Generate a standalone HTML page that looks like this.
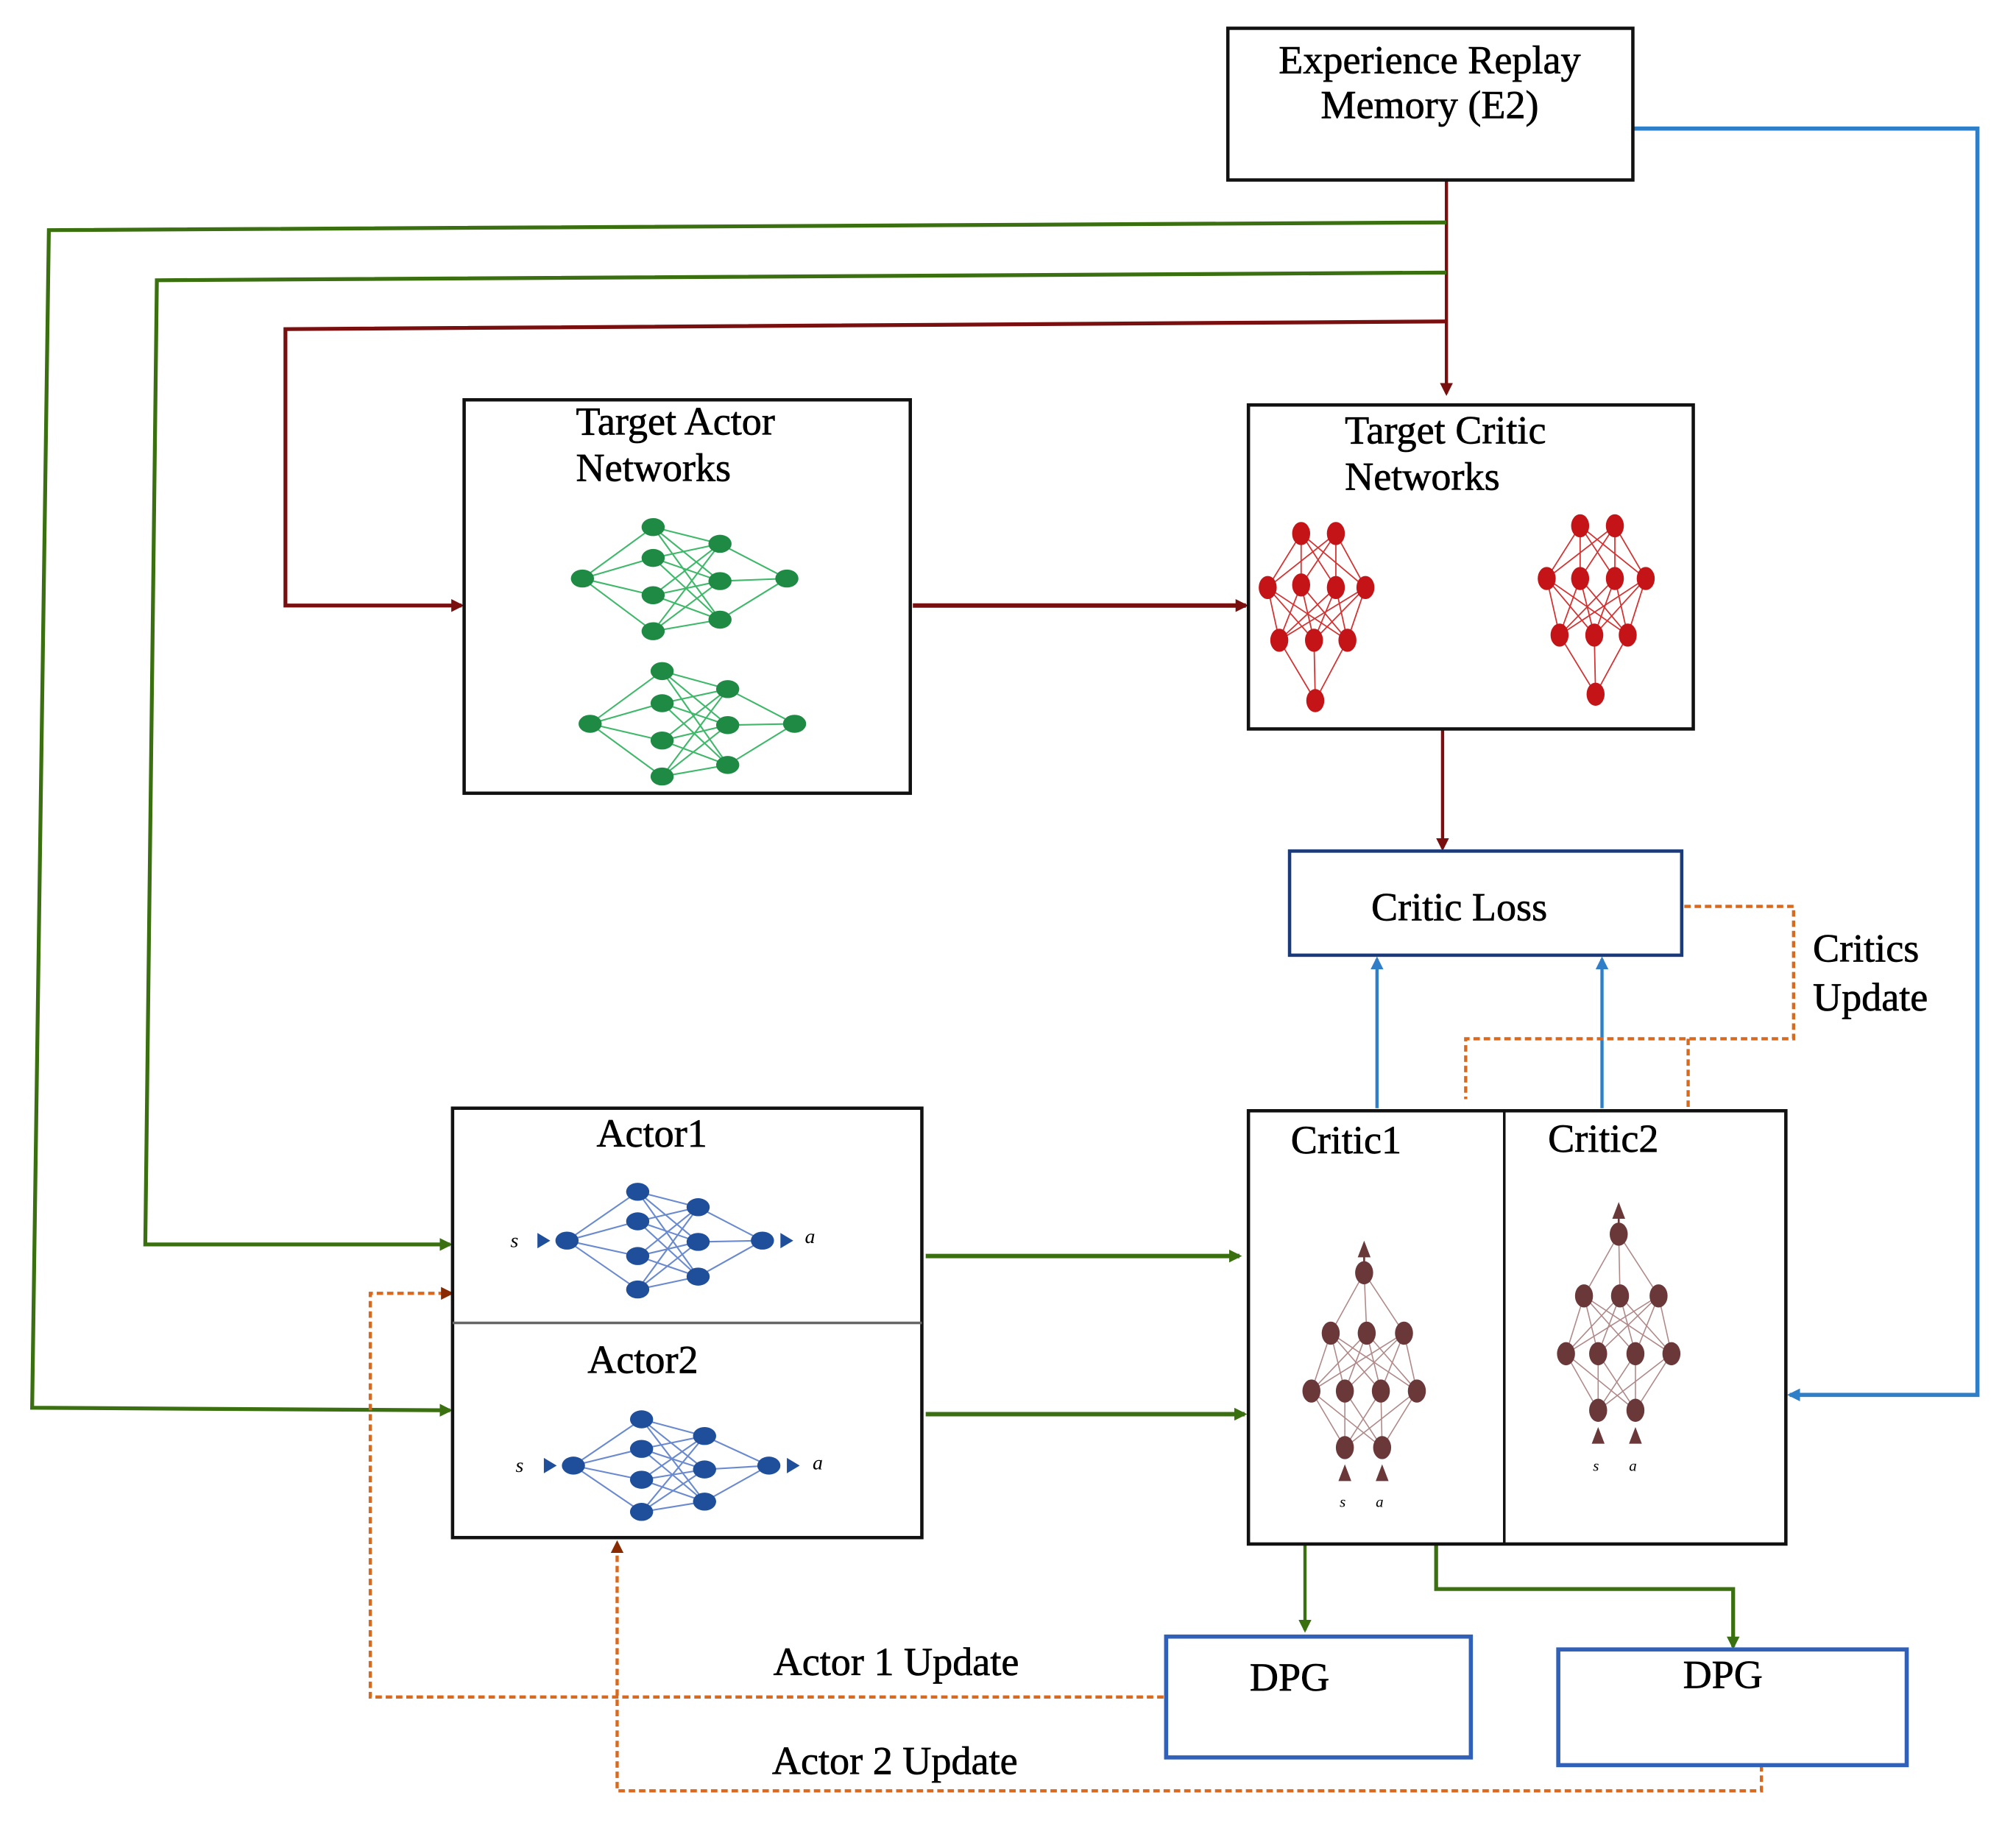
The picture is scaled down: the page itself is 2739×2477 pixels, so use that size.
<!DOCTYPE html>
<html><head><meta charset="utf-8"><style>
html,body{margin:0;padding:0;background:#fff;}
svg{display:block;}
text{font-family:"Liberation Serif",serif;fill:#000;}
</style></head><body>
<svg id="s" width="2739" height="2477" viewBox="0 0 1568 1418" preserveAspectRatio="none" xmlns="http://www.w3.org/2000/svg">
<defs>
<marker id="ar" markerWidth="10" markerHeight="10" refX="8" refY="5" orient="auto" markerUnits="userSpaceOnUse"><path d="M0,0 L10,5 L0,10 z" fill="#7a0f0f"/></marker>
<marker id="ag" markerWidth="10" markerHeight="10" refX="8" refY="5" orient="auto" markerUnits="userSpaceOnUse"><path d="M0,0 L10,5 L0,10 z" fill="#3a7010"/></marker>
<marker id="ab" markerWidth="10" markerHeight="10" refX="8" refY="5" orient="auto" markerUnits="userSpaceOnUse"><path d="M0,0 L10,5 L0,10 z" fill="#2f7fc8"/></marker>
<marker id="ao" markerWidth="10" markerHeight="10" refX="8" refY="5" orient="auto" markerUnits="userSpaceOnUse"><path d="M0,0 L10,5 L0,10 z" fill="#8a2a00"/></marker>
</defs>
<g fill="none" stroke-width="2.5">
<polyline points="1270,100 1538,100 1538,1085 1392,1085" stroke="#2f7fc8" stroke-width="3.2" marker-end="url(#ab)"/>
<line x1="1125" y1="140" x2="1125" y2="306" stroke="#7a0f0f" marker-end="url(#ar)"/>
<polyline points="1125,173 38,179 25,1095 350,1097" stroke="#3a7010" stroke-width="3" marker-end="url(#ag)"/>
<polyline points="1125,212 122,218 113,968 350,968" stroke="#3a7010" stroke-width="3" marker-end="url(#ag)"/>
<polyline points="1125,250 222,256 222,471 359,471" stroke="#7a0f0f" stroke-width="3" marker-end="url(#ar)"/>
<line x1="710" y1="471" x2="969" y2="471" stroke="#7a0f0f" stroke-width="3.4" marker-end="url(#ar)"/>
<line x1="1122" y1="567" x2="1122" y2="660" stroke="#7a0f0f" marker-end="url(#ar)"/>
<line x1="1071" y1="862" x2="1071" y2="746" stroke="#2f7fc8" marker-end="url(#ab)"/>
<line x1="1246" y1="862" x2="1246" y2="746" stroke="#2f7fc8" marker-end="url(#ab)"/>
<polyline points="1310,705 1395,705 1395,808 1140,808 1140,855" stroke="#d86a20" stroke-dasharray="5,3"/>
<line x1="1313" y1="808" x2="1313" y2="862" stroke="#d86a20" stroke-dasharray="5,3"/>
<line x1="720" y1="977" x2="964" y2="977" stroke="#3a7010" stroke-width="3.4" marker-end="url(#ag)"/>
<line x1="720" y1="1100" x2="968" y2="1100" stroke="#3a7010" stroke-width="3.4" marker-end="url(#ag)"/>
<line x1="1015" y1="1201" x2="1015" y2="1268" stroke="#3a7010" marker-end="url(#ag)"/>
<polyline points="1117,1201 1117,1236 1348,1236 1348,1281" stroke="#3a7010" stroke-width="3" marker-end="url(#ag)"/>
<polyline points="905,1320 288,1320 288,1006 351,1006" stroke="#d86a20" stroke-dasharray="5,3" marker-end="url(#ao)"/>
<polyline points="1370,1373 1370,1393 480,1393 480,1200" stroke="#d86a20" stroke-dasharray="5,3" marker-end="url(#ao)"/>
</g>
<g fill="#fff" stroke="#111" stroke-width="2.6">
<rect x="955" y="22" width="315" height="118"/>
<rect x="361" y="311" width="347" height="306"/>
<rect x="971" y="315" width="346" height="252"/>
<rect x="1003" y="662" width="305" height="81" stroke="#1a3a7a"/>
<rect x="352" y="862" width="365" height="334"/>
<rect x="971" y="864" width="418" height="337"/>
<rect x="907" y="1273" width="237" height="94" stroke="#3060b8" stroke-width="3.2"/>
<rect x="1212" y="1283" width="271" height="90" stroke="#3060b8" stroke-width="3.2"/>
</g>
<line x1="352" y1="1029" x2="717" y2="1029" stroke="#666" stroke-width="2"/>
<line x1="1170" y1="864" x2="1170" y2="1201" stroke="#111" stroke-width="2"/>
<g id="nets"></g>
<g font-size="31" stroke="#000" stroke-width="0.4">
<text x="1112" y="57" text-anchor="middle">Experience Replay</text>
<text x="1112" y="92" text-anchor="middle">Memory (E2)</text>
<text x="448" y="338">Target Actor</text>
<text x="448" y="374">Networks</text>
<text x="1046" y="345">Target Critic</text>
<text x="1046" y="381">Networks</text>
<text x="1135" y="716" text-anchor="middle">Critic Loss</text>
<text x="1410" y="748">Critics</text>
<text x="1410" y="786">Update</text>
<text x="507" y="892" text-anchor="middle">Actor1</text>
<text x="500" y="1068" text-anchor="middle">Actor2</text>
<text x="1047" y="897" text-anchor="middle">Critic1</text>
<text x="1247" y="896" text-anchor="middle">Critic2</text>
<text x="1003" y="1315" text-anchor="middle">DPG</text>
<text x="1340" y="1313" text-anchor="middle">DPG</text>
<text x="697" y="1303" text-anchor="middle">Actor 1 Update</text>
<text x="696" y="1380" text-anchor="middle">Actor 2 Update</text>
</g>
<g font-size="16" font-style="italic">
<text x="397" y="970">s</text><text x="626" y="967">a</text>
<text x="401" y="1145">s</text><text x="632" y="1143">a</text>
<text x="1042" y="1172" font-size="12">s</text><text x="1070" y="1172" font-size="12">a</text>
<text x="1239" y="1144" font-size="12">s</text><text x="1267" y="1144" font-size="12">a</text>
</g>
</svg>
<script>
var NS="http://www.w3.org/2000/svg",G=document.getElementById("nets");
function el(t,a){var e=document.createElementNS(NS,t);for(var k in a)e.setAttribute(k,a[k]);G.appendChild(e);return e;}
function net(layers,lc,nc,rx,ry,lw){
 for(var i=0;i<layers.length-1;i++)for(var a=0;a<layers[i].length;a++)for(var b=0;b<layers[i+1].length;b++)
  el("line",{x1:layers[i][a][0],y1:layers[i][a][1],x2:layers[i+1][b][0],y2:layers[i+1][b][1],stroke:lc,"stroke-width":lw});
 layers.forEach(function(L){L.forEach(function(p){el("ellipse",{cx:p[0],cy:p[1],rx:rx,ry:ry,fill:nc});});});
}
function col(x,ys){return ys.map(function(y){return [x,y];});}
function tri(x,y,dir,c){var d=dir=="r"?"M"+(x-5)+","+(y-6)+" L"+(x+5)+","+y+" L"+(x-5)+","+(y+6)+"z":"M"+(x-5)+","+(y+6)+" L"+x+","+(y-7)+" L"+(x+5)+","+(y+6)+"z";el("path",{d:d,fill:c});}
net([col(453,[450]),col(508,[410,434,463,491]),col(560,[423,452,482]),col(612,[450])],"#3fb86a","#1e8a44",9,7,1.2);
net([col(459,[563]),col(515,[522,547,576,604]),col(566,[536,564,595]),col(618,[563])],"#3fb86a","#1e8a44",9,7,1.2);
net([[[1012,415],[1039,415]],[[986,457],[1012,455],[1039,457],[1062,457]],[[995,498],[1022,498],[1048,498]],[[1023,545]]],"#d43030","#c41418",7,9,1);
net([[[1229,409],[1256,409]],[[1203,450],[1229,450],[1256,450],[1280,450]],[[1213,494],[1240,494],[1266,494]],[[1241,540]]],"#d43030","#c41418",7,9,1);
net([col(441,[965]),col(496,[927,950,977,1003]),col(543,[939,966,993]),col(593,[965])],"#6a8ad0","#1f4f9a",9,7,1.2);
net([col(446,[1140]),col(499,[1104,1127,1151,1176]),col(548,[1117,1143,1168]),col(598,[1140])],"#6a8ad0","#1f4f9a",9,7,1.2);
tri(423,965,"r","#1f4f9a");tri(612,965,"r","#1f4f9a");tri(428,1140,"r","#1f4f9a");tri(617,1140,"r","#1f4f9a");
var br="#6a3838",bl="#b08888";
net([[[1061,990]],[[1035,1037],[1063,1037],[1092,1037]],[[1020,1082],[1046,1082],[1074,1082],[1102,1082]],[[1046,1126],[1075,1126]]],bl,br,7,9,0.9);
el("line",{x1:1061,y1:975,x2:1061,y2:985,stroke:br,"stroke-width":1.5});tri(1061,972,"u",br);
tri(1046,1146,"u",br);tri(1075,1146,"u",br);
net([[[1259,960]],[[1232,1008],[1260,1008],[1290,1008]],[[1218,1053],[1243,1053],[1272,1053],[1300,1053]],[[1243,1097],[1272,1097]]],bl,br,7,9,0.9);
el("line",{x1:1259,y1:945,x2:1259,y2:955,stroke:br,"stroke-width":1.5});tri(1259,942,"u",br);
tri(1243,1117,"u",br);tri(1272,1117,"u",br);
</script>
</body></html>
